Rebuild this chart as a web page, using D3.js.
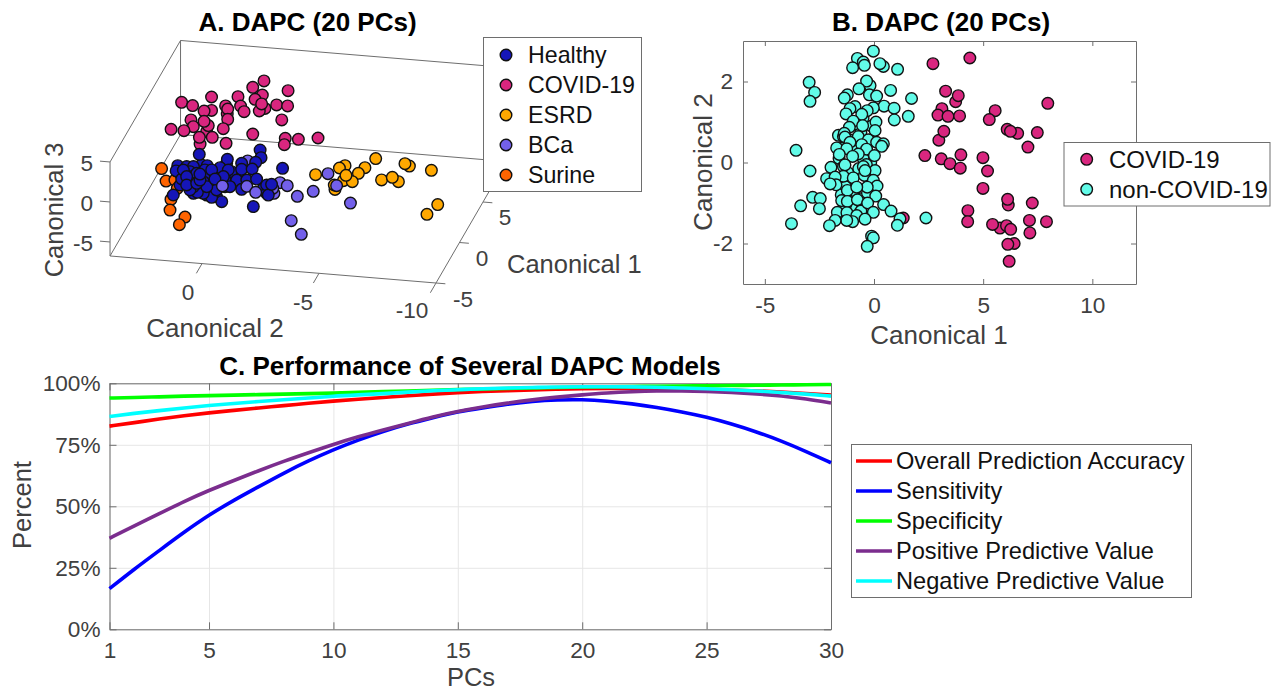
<!DOCTYPE html>
<html>
<head>
<meta charset="utf-8">
<script src="https://cdn.jsdelivr.net/npm/d3@7"></script>
<style>
  body { margin: 0; background: #fff; }
  svg { display: block; font-family: "Liberation Sans", Arial, sans-serif; }
  .axis-label, .tick text { fill: #404040; }
  .legend-text { fill: #111; }
  .title { fill: #000; font-weight: bold; }
</style>
</head>
<body>
<svg id="svg" width="1282" height="692"></svg>
<script>
// Panel A: [canonical 2, canonical 3] per group, canonical 1 is one value per group
const GROUPS_A = ["Healthy", "COVID-19", "ESRD", "BCa", "Surine"];
const GROUP_COLORS = ["#1616b8", "#d9267f", "#ffa800", "#7360ea", "#ff6400"];
const GROUP_C1 = [-1, 5, -1, -1, -1];

const healthyA = [
  [1.74, 0.06], [1.53, -0.72], [1.25, -0.86], [0.82, -1.38], [1.03, -0.18], [0.60, 0.33],
  [0.32, 0.40], [0.10, -0.79], [0.46, -1.29], [-0.11, 0.93], [-0.54, 0.20], [-0.82, 0.48],
  [1.74, -1.40], [1.17, -2.30], [0.60, -2.38], [0.18, -2.47], [-0.18, -1.14], [-1.82, -0.95],
  [-1.96, -1.54], [0.82, 1.33], [1.74, 0.69], [-0.25, 1.79],
  [0.92, 2.64], [-1.68, 3.81], [-1.72, 2.86], [-0.28, 2.30], [-1.49, 2.22], [-2.64, 1.75],
  [-0.89, 1.95], [1.84, 0.99], [1.91, 0.32], [1.46, 0.97], [1.17, 1.04], [0.58, 1.30],
  [0.03, 1.18], [-0.46, 0.80], [-0.89, 1.20], [-1.34, 1.35], [1.67, -0.63], [1.32, 0.37],
  [0.68, 0.74], [-0.18, -0.31], [-0.68, -0.19], [-1.11, -0.08], [-1.53, 0.14], [-1.96, -0.50],
  [-0.89, -1.30], [-2.03, -1.74], [-0.04, -3.05], [0.39, -2.61], [0.75, -2.20], [1.00, -2.13],
  [-1.39, -3.34], [1.32, -0.25], [1.17, -1.46], [0.46, -0.04], [-0.32, 0.98], [-0.11, 0.10],
  [0.39, 0.81], [1.60, 0.51], [1.03, 0.23], [1.46, -0.28], [0.75, -0.74], [0.18, -1.64],
  [1.32, -1.92], [-0.39, -1.09], [1.46, -1.33], [0.60, -1.33], [1.03, -1.02], [0.89, -0.57],
  [0.25, -0.29], [0.89, 0.18], [-2.17, -0.36], [2.03, -2.72],
];
const covidA = [
  [-0.64, 6.11], [-0.16, 5.20], [-1.67, 5.14], [1.60, 3.56], [0.47, 3.88], [-0.57, 4.34],
  [-0.26, 3.72], [2.88, 2.58], [2.41, 2.29], [1.00, 2.59], [0.36, 2.74], [-1.18, 3.24],
  [-1.65, 3.23], [-0.68, 2.69], [0.21, 2.07], [-0.44, 2.31], [-0.54, 3.21], [0.93, 1.60],
  [0.91, 2.23], [1.60, 1.89], [1.92, 1.73], [0.91, 0.94], [2.48, 0.48], [1.81, -0.82],
  [1.74, -0.05], [1.92, 0.44], [-1.40, 1.42], [2.38, -0.34], [3.33, -0.90], [2.78, -0.93],
  [1.10, -0.28], [-0.16, -0.64], [2.09, -2.44], [2.12, -1.60], [1.57, -1.47], [-1.55, -0.84],
  [-2.11, -0.83], [-2.95, -0.46], [-1.51, -1.64], [0.98, -2.08],
];
const esrdA = [
  [-6.62, 3.93], [-8.06, 3.35], [-7.87, 3.60], [-9.00, 3.04], [-5.31, 2.73], [-5.07, 2.38],
  [-6.16, 2.68], [-5.88, 1.91], [-4.05, 1.30], [-5.24, 0.84], [-5.62, 0.80], [-5.35, 1.53],
  [-7.59, 1.28], [-6.87, 1.32], [-7.33, 1.76], [-4.88, -0.34], [-4.85, 0.20], [-9.27, -1.18],
  [-8.81, -2.50],
];
// BCa points the healthy cloud sits in front of, then the ones in front of it
const bcaBehindA = [[-1.15, 2.31], [-2.53, -0.07], [-2.27, -1.47], [-2.22, -0.85]];
const bcaA = [
  [-4.58, 1.55], [-4.95, 0.14], [-5.54, -1.89], [-3.95, -0.81], [-3.27, -1.60],
  [-2.84, -0.37], [-3.01, -4.70], [-3.44, -6.31], [-0.07, -1.08], [-1.11, -0.87],
  [-1.49, -1.53],
];
const surineA = [
  [2.53, 0.46], [2.34, -1.05], [1.96, -0.83], [1.86, -1.84], [2.13, -3.29], [2.17, -4.63],
  [1.53, -5.35], [1.77, -6.36],
];

// Panel B: [canonical 1, canonical 2]
const covidB = [
  [1.34, -1.37], [2.70, 2.44], [4.39, 2.58], [7.96, 1.46], [3.28, 1.76], [3.74, 1.50], [3.86, 1.65],
  [3.11, 1.33], [2.93, 1.17], [3.39, 1.14], [3.92, 1.15], [5.55, 1.28], [5.28, 1.06], [6.10, 0.82],
  [6.58, 0.72], [6.25, 0.77], [7.48, 0.74], [7.05, 0.38], [2.97, 0.55], [3.20, 0.77], [2.33, 0.17],
  [3.08, 0.09], [3.48, -0.03], [3.98, 0.19], [3.95, -0.14], [4.99, 0.12], [5.20, -0.21], [4.99, -0.64],
  [6.15, -1.05], [6.12, -0.91], [7.25, -1.00], [4.30, -1.19], [4.29, -1.46], [5.77, -1.62], [5.43, -1.53],
  [6.07, -1.56], [6.26, -1.65], [7.12, -1.43], [7.90, -1.46], [7.14, -1.74], [6.42, -2.00], [6.13, -2.02],
  [6.19, -2.44],
];
const nonCovidB = [
  [-1.5, 0.35], [-1.6, 0.1], [-1.4, -0.1], [-1.6, -0.4], [-1.3, -0.6], [-1.5, -0.8], [-1.1, -0.9],
  [-0.9, -0.7], [-0.6, -0.9], [-0.3, -0.75], [-0.15, 0.0], [-0.2, -0.45], [-0.5, 0.1], [-0.8, 0.3],
  [-1.0, 0.55], [-0.6, 0.75], [-0.2, 0.55], [-0.9, 0.95], [-0.5, 1.1], [-0.1, 0.9], [-1.2, -0.25],
  [-0.7, -0.15], [-0.35, -0.05], [-1.0, -1.15], [-0.6, -1.2], [-1.3, -1.05],
  [-0.03, 2.75], [-0.76, 2.57], [-0.49, 2.48], [-0.44, 2.40], [-0.98, 2.34], [0.43, 2.37], [0.27, 2.44],
  [1.08, 2.30], [-2.97, 1.98], [-2.72, 1.73], [-2.93, 1.51], [-0.18, 1.90], [-0.34, 2.01], [-0.69, 1.82],
  [0.76, 1.78], [-0.21, 1.67], [-1.22, 1.67], [-1.36, 1.59], [0.12, 1.64], [1.72, 1.58], [0.46, 1.39],
  [0.92, 1.34], [-0.87, 1.38], [-1.10, 1.33], [-0.03, 1.35], [-0.31, 1.28], [-1.28, 1.20], [-0.56, 1.19],
  [1.57, 1.14], [0.93, 1.05], [0.09, 1.00], [-0.95, 1.02], [-1.13, 0.87], [-0.52, 0.91], [0.05, 0.79],
  [-1.63, 0.67], [-1.40, 0.64], [-1.36, 0.72], [-1.33, 0.63], [-0.72, 0.64], [-0.26, 0.56], [0.12, 0.50],
  [0.43, 0.46], [0.35, 0.40], [-0.56, 0.44], [-1.10, 0.50], [-1.71, 0.36], [-1.25, 0.34], [-0.34, 0.33],
  [-3.57, 0.30], [0.02, 0.17], [-1.59, 0.20], [-0.72, 0.21], [-0.98, 0.15], [0.05, -0.20], [-1.33, -0.06],
  [-0.49, -0.10], [-1.97, -0.12], [-2.93, -0.21], [-2.17, -0.40], [-1.40, -0.34], [-0.95, -0.38], [-0.44, -0.32],
  [-0.41, -0.20], [-1.78, -0.36], [-0.03, -0.44], [-1.74, -0.55], [-1.22, -0.69], [0.14, -0.58], [-0.31, -0.61],
  [-0.79, -0.61], [-2.01, -0.53], [0.08, -0.83], [-2.81, -0.86], [-2.46, -0.89], [-3.36, -1.07], [-2.50, -1.14],
  [-1.48, -0.94], [-1.22, -0.96], [-0.76, -0.92], [-0.29, -1.00], [0.44, -1.04], [-1.68, -1.23], [-1.24, -1.24],
  [-0.03, -1.23], [0.78, -1.20], [-0.79, -1.31], [-0.41, -1.40], [-0.98, -1.46], [-1.25, -1.43], [-1.78, -1.43],
  [-2.04, -1.56], [-3.78, -1.51], [1.19, -1.39], [1.07, -1.55], [2.38, -1.37], [-0.11, -1.82], [-0.03, -1.86],
  [-0.31, -2.07],
];

// Panel C: percent for PCs 1 to 30
const pcs = d3.range(1, 31);
const accuracy = [82.6, 84, 85.5, 86.8, 88, 89, 90, 90.9, 91.9, 92.8, 93.5, 94.2, 95, 95.6, 96.2, 96.7, 97, 97.3, 97.6, 97.8, 97.9, 97.9, 97.9, 97.8, 97.6, 97.3, 96.9, 96.5, 95.9, 95.2];
const sensitivity = [16.5, 24.5, 32, 39.5, 46.5, 52.5, 58, 63.5, 68.5, 73, 77, 80.5, 83.5, 86, 88.5, 90, 91.5, 92.7, 93.3, 93.4, 92.8, 91.7, 90.2, 88.4, 86.3, 83.5, 80.3, 76.6, 72.3, 67.7];
const specificity = [94, 94.2, 94.5, 94.8, 95, 95.2, 95.4, 95.6, 95.8, 96, 96.3, 96.6, 96.9, 97.2, 97.5, 97.7, 97.9, 98.1, 98.3, 98.5, 98.6, 98.7, 98.8, 98.9, 99, 99.1, 99.2, 99.3, 99.4, 99.5];
const ppv = [37, 42, 47, 52, 56.5, 60.5, 64.5, 68.3, 71.8, 75.2, 78.3, 81, 83.7, 86.4, 88.6, 90.4, 92, 93.3, 94.4, 95.3, 96.1, 96.6, 96.9, 96.9, 96.7, 96.3, 95.7, 94.9, 93.7, 92];
const npv = [86.5, 87.8, 88.9, 90, 91, 91.8, 92.6, 93.3, 94, 94.8, 95.3, 95.8, 96.4, 97, 97.4, 97.8, 98.1, 98.3, 98.5, 98.6, 98.6, 98.6, 98.4, 98.1, 97.8, 97.4, 96.9, 96.3, 95.6, 94.8];
const seriesNames = ["Overall Prediction Accuracy", "Sensitivity", "Specificity", "Positive Predictive Value", "Negative Predictive Value"];
const seriesColors = ["#ff0000", "#0000ff", "#00ff00", "#7b2d8e", "#00ffff"];

const AXIS_COLOR = "#6e6e6e";
const GRID_COLOR = "#e6e6e6";
const DOT_R = 5.8;
const TICK_FONT = 22.6;
const svg = d3.select("#svg");

function dot(parent, x, y, r, fill) {
  parent.append("circle")
    .attr("cx", x).attr("cy", y).attr("r", r)
    .attr("fill", fill).attr("stroke", "#111").attr("stroke-width", 1.4);
}

function addText(x, y, str, size, cls, anchor = "middle", rotate = null) {
  const t = svg.append("text")
    .attr("class", cls)
    .attr("font-size", size)
    .attr("text-anchor", anchor)
    .text(str);
  if (rotate === null) {
    t.attr("x", x).attr("y", y);
  } else {
    t.attr("transform", `translate(${x},${y}) rotate(${rotate})`);
  }
  return t;
}

function boxLegend(x, y, w, h) {
  return svg.append("rect")
    .attr("x", x).attr("y", y).attr("width", w).attr("height", h)
    .attr("fill", "#fff").attr("stroke", AXIS_COLOR).attr("stroke-width", 1);
}

// ---- Panel A, oblique projection of the 3D box
const c2Scale = d3.scaleLinear().domain([0, -10]).range([202, 436]);
const c2ScaleY = d3.scaleLinear().domain([0, -10]).range([263.6, 283]);
const c1ScaleX = d3.scaleLinear().domain([-5, 10]).range([0, 70.5]);
const c1ScaleY = d3.scaleLinear().domain([-5, 10]).range([0, -121.5]);
const c3Scale = d3.scaleLinear().domain([-6.75, 5]).range([0, -94]);

function project(c1, c2, c3) {
  return [
    c2Scale(c2) + c1ScaleX(c1),
    c2ScaleY(c2) + c1ScaleY(c1) + c3Scale(c3),
  ];
}

const C2_MAX = 3.93;
const wallEdges = [
  [[-5, C2_MAX, -6.75], [-5, C2_MAX, 5]],
  [[-5, C2_MAX, 5], [10, C2_MAX, 5]],
  [[10, C2_MAX, 5], [10, C2_MAX, -6.75]],
  [[-5, C2_MAX, -6.75], [10, C2_MAX, -6.75]],
  [[10, C2_MAX, 5], [10, -10, 5]],
  [[10, C2_MAX, -6.75], [10, -10, -6.75]],
  [[-5, C2_MAX, -6.75], [-5, -10, -6.75]],
  [[-5, -10, -6.75], [10, -10, -6.75]],
];
const gA = svg.append("g");
function seg3d(a, b) {
  const p = project(...a);
  const q = project(...b);
  gA.append("line")
    .attr("x1", p[0]).attr("y1", p[1]).attr("x2", q[0]).attr("y2", q[1])
    .attr("stroke", AXIS_COLOR).attr("stroke-width", 1);
}
wallEdges.forEach(([a, b]) => seg3d(a, b));
[5, 0, -5].forEach((v) => seg3d([-5, C2_MAX, v], [-5, C2_MAX + 0.43, v]));
[0, -5, -10].forEach((v) => seg3d([-5, v, -6.75], [-6.2, v, -6.75]));
[-5, 0, 5].forEach((v) => seg3d([v, -10, -6.75], [v, -10.4, -6.75]));

const drawOrderA = [
  [covidA, 1], [surineA, 4], [esrdA, 2], [bcaBehindA, 3], [healthyA, 0], [bcaA, 3],
];
drawOrderA.forEach(([pts, k]) => {
  pts.forEach(([c2, c3]) => {
    const [x, y] = project(GROUP_C1[k], c2, c3);
    dot(gA, x, y, DOT_R, GROUP_COLORS[k]);
  });
});

addText(307.5, 31, "A. DAPC (20 PCs)", 26, "title");
[[5, 171], [0, 211], [-5, 251]].forEach(([v, y]) => addText(93, y, v, TICK_FONT, "axis-label", "end"));
[[0, 188, 300], [-5, 303, 310], [-10, 412, 318]].forEach(([v, x, y]) => addText(x, y, v, TICK_FONT, "axis-label"));
[[5, 505, 225], [0, 482, 266], [-5, 463, 307]].forEach(([v, x, y]) => addText(x, y, v, TICK_FONT, "axis-label"));
addText(215, 337, "Canonical 2", 26, "axis-label");
addText(507, 273, "Canonical 1", 25.5, "axis-label", "start");
addText(63, 210, "Canonical 3", 25.5, "axis-label", "middle", -90);

boxLegend(483.5, 37.5, 158, 154);
const legendAY = d3.scalePoint().domain(GROUPS_A).range([55, 175]);
GROUPS_A.forEach((name, i) => {
  dot(svg, 506, legendAY(name), DOT_R, GROUP_COLORS[i]);
  addText(528, legendAY(name) + 8, name, 23.2, "legend-text", "start");
});

// ---- Panel B
const xB = d3.scaleLinear().domain([-6, 12]).range([743, 1136]);
const yB = d3.scaleLinear().domain([-3, 3]).range([284, 41]);
const gB = svg.append("g");

function styleAxis(g) {
  g.selectAll(".domain").attr("stroke", AXIS_COLOR);
  g.selectAll(".tick line").attr("stroke", AXIS_COLOR);
  g.selectAll("text").attr("fill", "#404040");
}
const ticksB = [-5, 0, 5, 10];
const ticksBY = [-2, 0, 2];
const plainTick = (d) => String(d);
gB.append("g").attr("transform", "translate(0,284)")
  .call(d3.axisBottom(xB).tickValues(ticksB).tickFormat(plainTick).tickSizeInner(-5).tickSizeOuter(0).tickPadding(13))
  .attr("font-size", TICK_FONT).attr("font-family", null).call(styleAxis);
gB.append("g").attr("transform", "translate(0,41)")
  .call(d3.axisTop(xB).tickValues(ticksB).tickSizeInner(-5).tickSizeOuter(0).tickFormat(""))
  .call(styleAxis);
gB.append("g").attr("transform", "translate(743,0)")
  .call(d3.axisLeft(yB).tickValues(ticksBY).tickFormat(plainTick).tickSizeInner(-5).tickSizeOuter(0).tickPadding(10))
  .attr("font-size", TICK_FONT).attr("font-family", null).call(styleAxis);
gB.append("g").attr("transform", "translate(1136,0)")
  .call(d3.axisRight(yB).tickValues(ticksBY).tickSizeInner(-5).tickSizeOuter(0).tickFormat(""))
  .call(styleAxis);

covidB.forEach(([a, b]) => dot(gB, xB(a), yB(b), DOT_R, GROUP_COLORS[1]));
nonCovidB.forEach(([a, b]) => dot(gB, xB(a), yB(b), DOT_R, "#62fbe8"));

addText(941, 31, "B. DAPC (20 PCs)", 26, "title");
addText(939, 344, "Canonical 1", 26, "axis-label");
addText(712, 162, "Canonical 2", 26, "axis-label", "middle", -90);

boxLegend(1064, 142.5, 206, 63.5);
dot(svg, 1086.7, 159.3, DOT_R, GROUP_COLORS[1]);
dot(svg, 1086.7, 189.3, DOT_R, "#62fbe8");
addText(1109, 167.5, "COVID-19", 24, "legend-text", "start");
addText(1109, 197.5, "non-COVID-19", 24, "legend-text", "start");

// ---- Panel C
const xC = d3.scaleLinear().domain([1, 30]).range([109.5, 831]);
const yC = d3.scaleLinear().domain([0, 100]).range([629.3, 383.3]);
const gC = svg.append("g");
const ticksC = [1, 5, 10, 15, 20, 25, 30];
const ticksCY = [0, 25, 50, 75, 100];

gC.append("g").attr("transform", "translate(0,629.3)")
  .call(d3.axisBottom(xC).tickValues(ticksC).tickSize(-246).tickSizeOuter(0).tickFormat(""))
  .call((g) => g.selectAll(".tick line").attr("stroke", GRID_COLOR))
  .call((g) => g.select(".domain").remove());
gC.append("g").attr("transform", "translate(109.5,0)")
  .call(d3.axisLeft(yC).tickValues(ticksCY).tickSize(-721.5).tickSizeOuter(0).tickFormat(""))
  .call((g) => g.selectAll(".tick line").attr("stroke", GRID_COLOR))
  .call((g) => g.select(".domain").remove());

gC.append("g").attr("transform", "translate(0,629.3)")
  .call(d3.axisBottom(xC).tickValues(ticksC).tickSizeInner(-7).tickSizeOuter(0).tickPadding(13))
  .attr("font-size", TICK_FONT).attr("font-family", null).call(styleAxis);
gC.append("g").attr("transform", "translate(0,383.3)")
  .call(d3.axisTop(xC).tickValues(ticksC).tickSizeInner(-7).tickSizeOuter(0).tickFormat(""))
  .call(styleAxis);
gC.append("g").attr("transform", "translate(109.5,0)")
  .call(d3.axisLeft(yC).tickValues(ticksCY).tickSizeInner(-7).tickSizeOuter(0).tickPadding(9)
    .tickFormat((d) => d + "%"))
  .attr("font-size", TICK_FONT).attr("font-family", null).call(styleAxis);
gC.append("g").attr("transform", "translate(831,0)")
  .call(d3.axisRight(yC).tickValues(ticksCY).tickSizeInner(-7).tickSizeOuter(0).tickFormat(""))
  .call(styleAxis);

const line = d3.line().curve(d3.curveBasis)
  .x((d, i) => xC(pcs[i]))
  .y((d) => yC(d));
[accuracy, sensitivity, specificity, ppv, npv].forEach((vals, i) => {
  gC.append("path")
    .attr("d", line(vals))
    .attr("fill", "none")
    .attr("stroke", seriesColors[i])
    .attr("stroke-width", 3.6);
});

addText(470, 375, "C. Performance of Several DAPC Models", 26, "title");
addText(471, 686, "PCs", 25.5, "axis-label");
addText(31, 505, "Percent", 25.5, "axis-label", "middle", -90);

boxLegend(851.5, 444.5, 340, 153);
const legendCY = d3.scalePoint().domain(seriesNames).range([461, 581]);
seriesNames.forEach((name, i) => {
  svg.append("line")
    .attr("x1", 856).attr("x2", 892)
    .attr("y1", legendCY(name)).attr("y2", legendCY(name))
    .attr("stroke", seriesColors[i]).attr("stroke-width", 3.6);
  addText(896, legendCY(name) + 8, name, 23.6, "legend-text", "start");
});
</script>
</body>
</html>
